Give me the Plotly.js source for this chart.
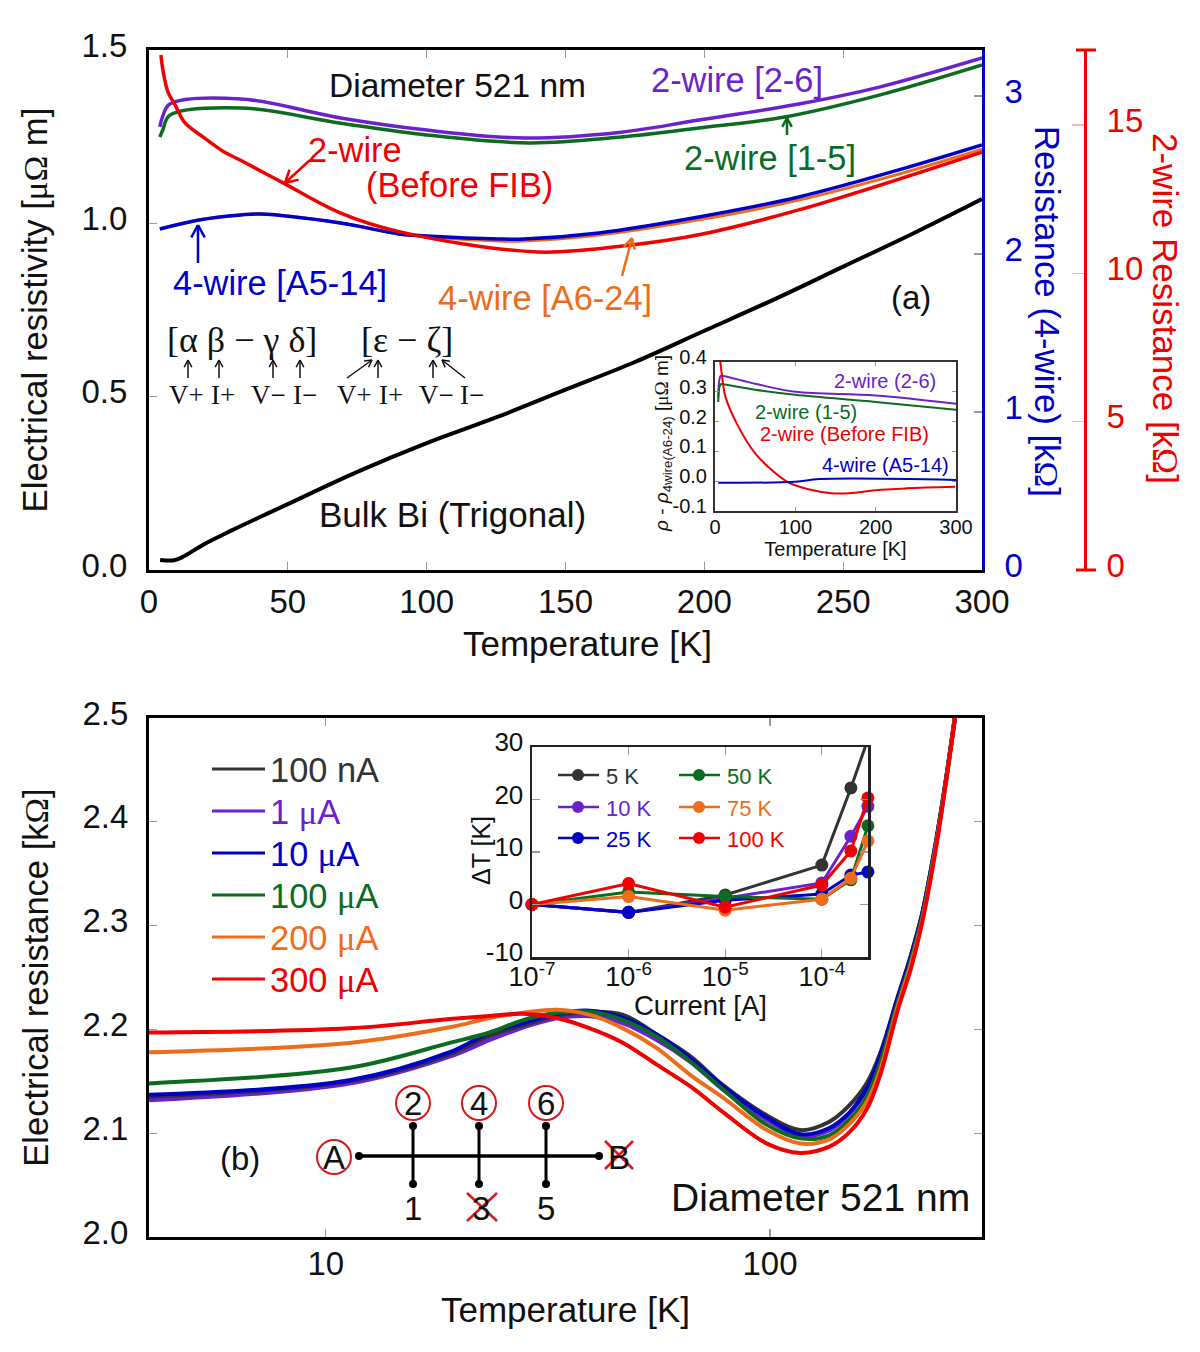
<!DOCTYPE html>
<html><head><meta charset="utf-8">
<script src="https://cdn.plot.ly/plotly-3.0.1.min.js"></script>
<style>html,body{margin:0;padding:0;background:#fff}</style></head>
<body><div id="chart" style="width:1200px;height:1352px"></div>
<script>
// ---- panel (a) data
const tBulk=[4,9,12,20,30,40,50,75,100,125,150,175,200,225,250,275,300];
const rhoBulk=[.029,.028,.037,.075,.115,.153,.19,.283,.366,.44,.52,.60,.69,.78,.875,.97,1.07];
const t26=[3.9,5,7.5,33,69,100,135,170,198,234,263,300];
const rho26=[1.278,1.31,1.344,1.359,1.304,1.269,1.246,1.263,1.298,1.344,1.393,1.477];
const t15=[3.9,5,7.5,33,69,100,137,170,198,229,263,300];
const rho15=[1.249,1.27,1.312,1.333,1.289,1.255,1.232,1.249,1.275,1.307,1.37,1.457];
const tA=[3.9,18,33,40,69,90,100,126,135,162,198,234,270,300];
const rA624=[.984,1.01,1.024,1.027,1.001,.969,.961,.949,.949,.966,1.01,1.067,1.142,1.214];
const rA514=[2.158,2.215,2.247,2.253,2.196,2.127,2.114,2.095,2.095,2.133,2.234,2.361,2.532,2.69];
const tFIB=[4.3,5,6.8,9.4,13,19.4,26.6,32.8,48.3,68.8,90.4,140,173,198,234,300];
const rFIB=[17.36,16.86,16.12,15.68,15.07,14.6,14.12,13.82,13.05,12.04,11.40,10.72,10.95,11.3,12.14,14.09];
// ---- inset (a)
const iT26=[4,7,10,50,100,200,300], iD26=[.28,.353,.353,.327,.30,.288,.26];
const iT15=[4,7,10,50,100,200,300], iD15=[.266,.325,.325,.307,.29,.266,.24];
const iTF=[6.6,10,13,27,50,73,90,115,148,173,200,239,299], iDF=[.4,.327,.283,.194,.093,.032,-.002,-.026,-.041,-.039,-.03,-.024,-.019];
const iTB=[4,100,130,300], iDB=[-.005,-.002,.007,.004];
// ---- panel (b)
const tb=[4,11.3,19,23.4,27.8,33.1,39.3,46.7,55.6,66.2,78.5,98.4,117,136,151,165,177,194,207,220,236,248,261];
const r300=[2.197,2.201,2.21,2.213,2.215,2.211,2.201,2.187,2.166,2.145,2.12,2.09,2.081,2.087,2.101,2.123,2.156,2.219,2.257,2.303,2.373,2.434,2.501];
const r200=[2.178,2.187,2.202,2.211,2.216,2.219,2.214,2.201,2.182,2.156,2.134,2.103,2.09,2.094,2.109,2.13,2.161,2.223,2.261,2.305,2.375,2.434,2.502];
const r100u=[2.148,2.163,2.187,2.197,2.209,2.216,2.217,2.209,2.193,2.169,2.142,2.108,2.095,2.098,2.113,2.135,2.168,2.226,2.265,2.308,2.377,2.435,2.502];
const r10u=[2.137,2.151,2.178,2.197,2.206,2.215,2.218,2.211,2.195,2.172,2.145,2.115,2.099,2.105,2.12,2.143,2.175,2.231,2.269,2.311,2.379,2.436,2.502];
const r1u=[2.132,2.148,2.174,2.19,2.202,2.211,2.213,2.206,2.19,2.169,2.142,2.113,2.098,2.103,2.119,2.143,2.174,2.229,2.268,2.31,2.378,2.435,2.502];
const r100n=[2.135,2.15,2.176,2.194,2.204,2.213,2.217,2.214,2.195,2.174,2.146,2.117,2.103,2.111,2.127,2.148,2.177,2.232,2.27,2.312,2.38,2.437,2.502];
// ---- inset (b)
const cur=[1e-7,1e-6,1e-5,1e-4,2e-4,3e-4];
const d5=[0,-1.5,1.8,7.5,22.2,31.5], d10=[0,-1.5,1.2,4.1,13,18.7], d25=[0,-1.5,.8,2,5.6,6.2];
const d50=[0,2.4,1.5,1,4.7,15], d75=[0,1.5,-1.1,1,5,12.1], d100=[0,4,-.5,3.7,10.2,20.3];
// ---- tick labels written with a plain hyphen, as in the reference
const insetAYVals=[-.1,0,.1,.2,.3,.4], insetAYText=['-0.1','0.0','0.1','0.2','0.3','0.4'];
const insetBYVals=[-10,0,10,20,30], insetBYText=['-10','0','10','20','30'];
const insetBXVals=[1e-7,1e-6,1e-5,1e-4], insetBXText=['10<sup>-7</sup>','10<sup>-6</sup>','10<sup>-5</sup>','10<sup>-4</sup>'];

const BLACK='#000',PUR='#6a22cf',BLU='#0000c8',GRN='#0b6b1e',ORG='#ed6d1c',RED='#f00000',DK='#333333';
const SANS='"Liberation Sans",Arial,sans-serif',SERIF='"Liberation Serif",serif';
const px=x=>x/1200, py=y=>1-y/1352;
const MU='<span style="font-family:\'Liberation Serif\'">μΩ</span>';
const OM='<span style="font-family:\'Liberation Serif\'">Ω</span>';

function ln(x,y,name,color,xa,ya,w){return {x,y,name,mode:'lines',xaxis:xa,yaxis:ya,line:{color,width:w,shape:'spline',smoothing:1},hoverinfo:'skip'};}
function mk(x,y,name,color,clip){return {x,y,name,mode:'lines+markers',xaxis:'x4',yaxis:'y6',cliponaxis:clip,line:{color,width:3},marker:{color,size:13},hoverinfo:'skip'};}
const traces=[
 ln(tBulk,rhoBulk,'Bulk Bi',BLACK,'x','y',4),
 ln(tA,rA624,'4-wire [A6-24]',ORG,'x','y',3),
 ln(tFIB,rFIB,'2-wire (Before FIB)',RED,'x','y3',3.5),
 ln(tA,rA514,'4-wire [A5-14]',BLU,'x','y2',3.5),
 ln(t26,rho26,'2-wire [2-6]',PUR,'x','y',3.5),
 ln(t15,rho15,'2-wire [1-5]',GRN,'x','y',3.5),
 ln(iT26,iD26,'2-wire (2-6)',PUR,'x2','y4',2),
 ln(iT15,iD15,'2-wire (1-5)',GRN,'x2','y4',2),
 ln(iTF,iDF,'2-wire (Before FIB)',RED,'x2','y4',2),
 ln(iTB,iDB,'4-wire (A5-14)',BLU,'x2','y4',2),
 ln(tb,r1u,'1 µA',PUR,'x3','y5',4.5),
 ln(tb,r100n,'100 nA',DK,'x3','y5',4),
 ln(tb,r10u,'10 µA',BLU,'x3','y5',4),
 ln(tb,r100u,'100 µA',GRN,'x3','y5',4),
 ln(tb,r200,'200 µA',ORG,'x3','y5',4),
 ln(tb,r300,'300 µA',RED,'x3','y5',4),
 mk(cur,d5,'5 K',DK,true),
 mk(cur,d10,'10 K',PUR,false),
 mk(cur,d25,'25 K',BLU,false),
 mk(cur,d50,'50 K',GRN,false),
 mk(cur,d75,'75 K',ORG,false),
 mk(cur,d100,'100 K',RED,false)
];

const TICK={ticks:'inside',ticklen:8,tickwidth:1.2,tickcolor:'#999',showgrid:false,zeroline:false,showline:true};
const tf=(s,c)=>({family:SANS,size:s,color:c||'#111'});
const layout={
 width:1200,height:1352,margin:{l:0,r:0,t:0,b:0,autoexpand:false},showlegend:false,
 paper_bgcolor:'#fff',plot_bgcolor:'rgba(0,0,0,0)',
 xaxis:{...TICK,domain:[px(149),px(982)],range:[0,300],dtick:50,anchor:'y',mirror:'ticks',linecolor:BLACK,linewidth:3,
   tickfont:tf(33),ticklabelstandoff:0},
 yaxis:{...TICK,domain:[py(570),py(50)],range:[0,1.5],tickvals:[0,.5,1,1.5],tickformat:'.1f',anchor:'x',linecolor:BLACK,linewidth:3,
   tickfont:tf(33),ticklabelshift:-5,ticklabelstandoff:12,
   title:{text:'Electrical resistivity ['+MU+' m]',font:tf(34.7),standoff:24}},
 yaxis2:{...TICK,domain:[py(570),py(50)],overlaying:'y',side:'right',anchor:'x',range:[0,3.291],dtick:1,linecolor:BLU,linewidth:3,
   tickfont:tf(33,BLU),ticklabelshift:-5,ticklabelstandoff:13},
 yaxis3:{...TICK,domain:[py(570),py(50)],overlaying:'y',side:'right',anchor:'free',position:px(1085),range:[0,17.53],dtick:5,linecolor:RED,linewidth:3,
   tickcolor:'#f7b5b5',ticklen:12,
   tickfont:tf(33,RED),ticklabelshift:-5,ticklabelstandoff:13},
 xaxis2:{...TICK,domain:[px(715),px(956)],range:[0,300],dtick:100,anchor:'y4',mirror:'ticks',linecolor:'#333',linewidth:2,ticklen:4,
   tickfont:tf(20),ticklabelstandoff:-3,
   title:{text:'Temperature [K]',font:tf(20),standoff:0}},
 yaxis4:{...TICK,domain:[py(511),py(362)],range:[-.1,.4],tickvals:insetAYVals,ticktext:insetAYText,anchor:'x2',mirror:'ticks',linecolor:'#333',linewidth:2,ticklen:4,
   tickfont:tf(20),ticklabelshift:-5,ticklabelstandoff:2},
 xaxis3:{...TICK,domain:[px(149),px(982)],type:'log',range:[Math.log10(4),Math.log10(300)],dtick:1,anchor:'y5',mirror:'ticks',linecolor:BLACK,linewidth:3,
   tickfont:tf(33),ticklabelstandoff:-5,tickformat:'d',
   title:{text:'Temperature [K]',font:tf(35),standoff:17}},
 yaxis5:{...TICK,domain:[py(1237),py(718)],range:[2,2.5],dtick:.1,tickformat:'.1f',anchor:'x3',mirror:'ticks',linecolor:BLACK,linewidth:3,
   tickfont:tf(33),ticklabelshift:-5,ticklabelstandoff:11,
   title:{text:'Electrical resistance [k'+OM+']',font:tf(34.5),standoff:24}},
 xaxis4:{...TICK,domain:[px(532),px(868)],type:'log',range:[-7,-3.522],tickvals:insetBXVals,ticktext:insetBXText,anchor:'y6',mirror:'ticks',linecolor:'#222',linewidth:2.5,
   tickfont:tf(27),ticklabelstandoff:-6},
 yaxis6:{...TICK,domain:[py(957),py(747)],range:[-10,30],tickvals:insetBYVals,ticktext:insetBYText,anchor:'x4',mirror:'ticks',linecolor:'#222',linewidth:2.5,
   tickfont:tf(26),ticklabelshift:-5,ticklabelstandoff:1},
 shapes:[],annotations:[]
};
const S=layout.shapes,A=layout.annotations;
function seg(x0,y0,x1,y1,c,w){S.push({type:'line',xref:'paper',yref:'paper',x0:px(x0),y0:py(y0),x1:px(x1),y1:py(y1),line:{color:c,width:w}});}
function circ(x,y,r,fill,lc,lw){S.push({type:'circle',xref:'paper',yref:'paper',x0:px(x-r),x1:px(x+r),y0:py(y+r),y1:py(y-r),fillcolor:fill,line:{color:lc,width:lw}});}
function T(text,x,y,size,color,fam,anchor,angle){A.push({text,x:px(x),y:py(y),xref:'paper',yref:'paper',showarrow:false,textangle:angle||0,xanchor:anchor||'center',yanchor:'middle',font:{family:fam||SANS,size,color:color||'#111'}});}
function arrow(xt,yt,xs,ys,c,w,h){
  seg(xs,ys,xt,yt,c,w);
  const a=Math.atan2(ys-yt,xs-xt),d=.5;
  seg(xt,yt,xt+h*Math.cos(a+d),yt+h*Math.sin(a+d),c,w);
  seg(xt,yt,xt+h*Math.cos(a-d),yt+h*Math.sin(a-d),c,w);
}

// axis titles that Plotly cannot place as drawn in the reference
T('Temperature [K]',587,643,35);
T('Resistance (4-wire) [k'+OM+']',1047,311,34.7,BLU,SANS,'center',90);
T('2-wire Resistance [k'+OM+']',1165,308,35,RED,SANS,'center',90);
T('<i>ρ</i> - <i>ρ</i><sub>4wire(A6-24)</sub> ['+MU+' m]',663,444,19,'#111',SANS,'center',-90);
T('ΔT [K]',481,851,25,'#111',SANS,'center',-90);
T('Current [A]',700,1005,27.5);

// panel (a) red caps
seg(1076,50,1096,50,RED,3); seg(1076,570,1096,570,RED,3);
// panel (a) labels
T('Diameter 521 nm',457,85,33.5);
T('2-wire [2-6]',737,80,34.4,PUR);
T('2-wire [1-5]',770,158,34.4,GRN);
T('2-wire',355,150,34.4,RED);
T('(Before FIB)',459,185,34.4,RED);
T('4-wire [A5-14]',280,283,34.4,BLU);
T('4-wire [A6-24]',545,298,34.4,ORG);
T('(a)',911,297,33);
T('Bulk Bi (Trigonal)',452,514,35);
arrow(285,183,310,160,RED,2.5,14);
arrow(198,225,198,263,BLU,2.5,14);
arrow(787,118,787,135,GRN,2.5,10);
arrow(632,238,622,276,ORG,2.5,12);
// contact notation
T('[α β − γ δ]',242,340,36,'#111',SERIF);
T('[ε − ζ]',407,340,36,'#111',SERIF);
[['V+',186],['I+',223],['V−',268],['I−',305],['V+',354],['I+',391],['V−',436],['I−',472]].forEach(v=>T(v[0],v[1],395,27,'#111',SERIF));
[[188,188],[219,219],[273,273],[300,300],[378,378],[433,433],[372,347],[442,465]].forEach(v=>arrow(v[0],360,v[1],378,'#111',1.5,8));
// inset (a) labels
T('2-wire (2-6)',885,381,20,PUR);
T('2-wire (1-5)',806,412,20,GRN);
T('2-wire (Before FIB)',844,434,20,RED);
T('4-wire (A5-14)',885,465,20,BLU);
// panel (b) legend
[['100 nA',DK,769],['1 μA',PUR,811],['10 μA',BLU,853],['100 μA',GRN,895],['200 μA',ORG,937],['300 μA',RED,979]].forEach(v=>{
  seg(212,v[2],265,v[2],v[1],3);
  T(v[0].replace('μ','<span style="font-family:\'Liberation Serif\'">μ</span>'),268,v[2]+1,34.4,v[1],SANS,'left');
});
// inset (b) legend
[['5 K',DK,558,775],['10 K',PUR,558,807],['25 K',BLU,558,838],['50 K',GRN,679,775],['75 K',ORG,679,807],['100 K',RED,679,838]].forEach(v=>{
  seg(v[2],v[3],v[2]+41,v[3],v[1],2.5);
  circ(v[2]+20,v[3],6,v[1],v[1],0);
  T(v[0],v[2]+46,v[3]+1,22,v[1],SANS,'left');
});
// contact schematic
seg(359,1156,599,1156,BLACK,3.5);
[413,479,546].forEach(x=>{seg(x,1126,x,1184,BLACK,3);circ(x,1126,4,BLACK,BLACK,0);circ(x,1184,4,BLACK,BLACK,0);});
circ(359,1156,4,BLACK,BLACK,0);circ(599,1156,4,BLACK,BLACK,0);
[[334,1157,'A'],[413,1103,'2'],[479,1103,'4'],[546,1103,'6']].forEach(v=>{circ(v[0],v[1],17,'rgba(0,0,0,0)','#d8181c',2);T(v[2],v[0],v[1],33);});
T('1',413,1208,33);T('3',481,1208,33);T('5',546,1208,33);T('B',619,1157,33);
seg(605,1141,633,1169,'#e0141c',2.5);seg(605,1169,633,1141,'#e0141c',2.5);
seg(467,1193,497,1221,'#e0141c',2.5);seg(467,1221,497,1193,'#e0141c',2.5);
T('(b)',240,1158,33);
T('Diameter 521 nm',820,1197,39);

Plotly.newPlot('chart',traces,layout,{staticPlot:true,displayModeBar:false});
</script></body></html>
